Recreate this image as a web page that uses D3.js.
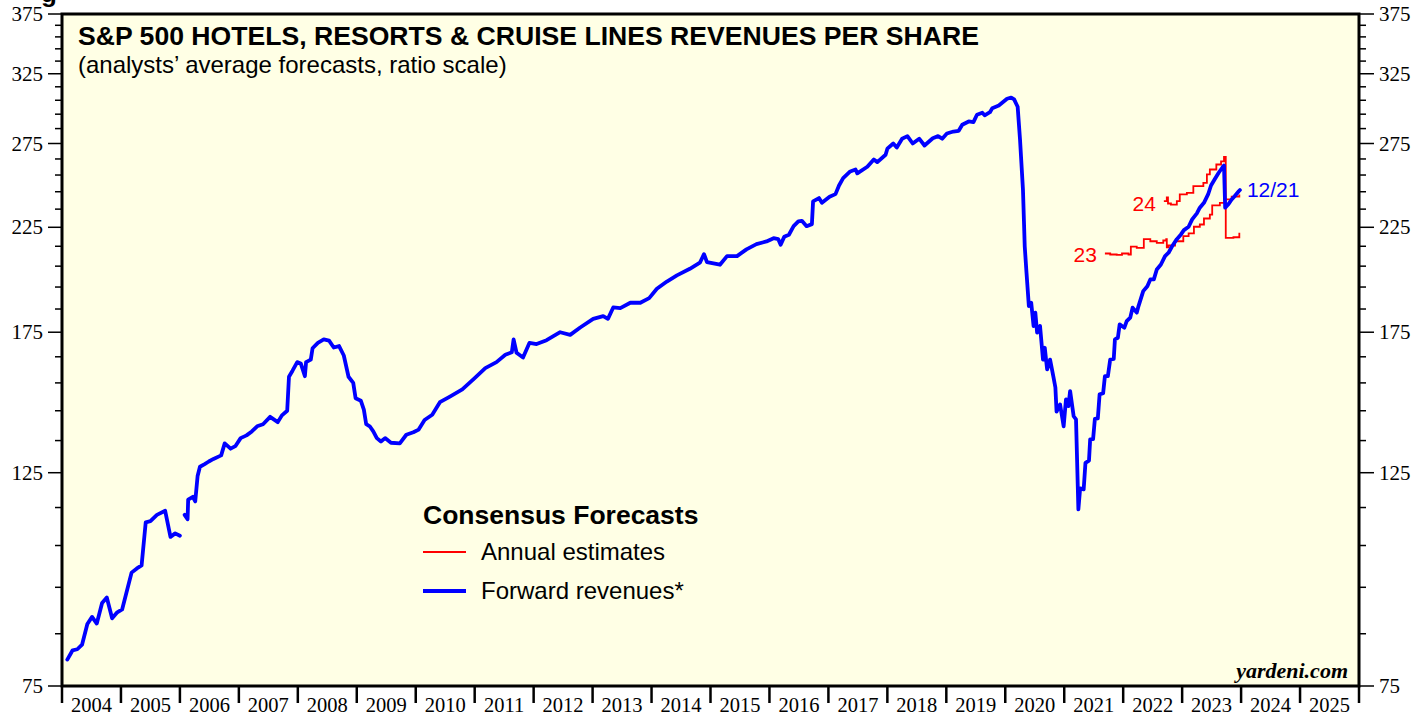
<!DOCTYPE html>
<html>
<head>
<meta charset="utf-8">
<script src="https://cdn.jsdelivr.net/npm/d3@7"></script>
<style>
  body { margin: 0; background: #fff; }
  svg { display: block; }
</style>
</head>
<body>
<svg id="chart" width="1427" height="717"></svg>
<script>
// axis labels
const years = d3.range(2004, 2026);
const majorTicks = [75, 125, 175, 225, 275, 325, 375];

// forward revenues (decimal year, value); null = gap in the series
const fwdDates = [
  2004.09, 2004.18, 2004.26, 2004.34, 2004.43, 2004.51, 2004.59, 2004.68, 2004.76, 2004.85,
  2004.93, 2005.02, 2005.18, 2005.27, 2005.35, 2005.42, 2005.50, 2005.61, 2005.75, 2005.84,
  2005.92, 2006.00, 2006.04,
  2006.08, 2006.13, 2006.14, 2006.22, 2006.26, 2006.30, 2006.34, 2006.42, 2006.49, 2006.57,
  2006.70, 2006.76, 2006.86, 2006.94, 2007.03, 2007.13, 2007.22, 2007.31, 2007.41, 2007.53,
  2007.66, 2007.73, 2007.82, 2007.85, 2007.91, 2007.99, 2008.05, 2008.12, 2008.14, 2008.22,
  2008.25, 2008.34, 2008.44, 2008.53, 2008.61, 2008.70, 2008.78, 2008.86, 2008.94, 2008.98,
  2009.07, 2009.12, 2009.16, 2009.22, 2009.28, 2009.34, 2009.41, 2009.48, 2009.58, 2009.73,
  2009.84, 2009.96, 2010.05, 2010.15, 2010.28, 2010.41, 2010.58, 2010.79, 2011.00, 2011.18,
  2011.37, 2011.52, 2011.63, 2011.66, 2011.71, 2011.82, 2011.93, 2012.05, 2012.22, 2012.45,
  2012.62, 2012.79, 2013.01, 2013.18, 2013.26, 2013.35, 2013.47, 2013.64, 2013.81, 2013.96,
  2014.09, 2014.26, 2014.43, 2014.65, 2014.82, 2014.89, 2014.94, 2015.16, 2015.28, 2015.45,
  2015.61, 2015.78, 2015.95, 2016.07, 2016.15, 2016.19, 2016.25, 2016.33, 2016.41, 2016.49,
  2016.55, 2016.63, 2016.72, 2016.74, 2016.84, 2016.89, 2017.02, 2017.12, 2017.18, 2017.25,
  2017.37, 2017.46, 2017.49, 2017.66, 2017.77, 2017.83, 2017.97, 2018.00, 2018.10, 2018.16,
  2018.25, 2018.34, 2018.43, 2018.54, 2018.63, 2018.77, 2018.86, 2018.93, 2019.01, 2019.12,
  2019.21, 2019.27, 2019.38, 2019.46, 2019.52, 2019.61, 2019.65, 2019.74, 2019.78, 2019.89,
  2020.03, 2020.10, 2020.15, 2020.21, 2020.25, 2020.30, 2020.33, 2020.36, 2020.40, 2020.44,
  2020.48, 2020.51, 2020.54, 2020.59, 2020.64, 2020.67, 2020.71, 2020.76, 2020.82, 2020.85,
  2020.87, 2020.93, 2020.99, 2021.03, 2021.07, 2021.10, 2021.16, 2021.20, 2021.24, 2021.27,
  2021.33, 2021.36, 2021.42, 2021.44, 2021.49, 2021.52, 2021.57, 2021.60, 2021.66, 2021.69,
  2021.74, 2021.78, 2021.84, 2021.86, 2021.91, 2021.94, 2022.02, 2022.06, 2022.12, 2022.16,
  2022.23, 2022.26, 2022.34, 2022.41, 2022.46, 2022.52, 2022.57, 2022.64, 2022.71, 2022.77,
  2022.83, 2022.91, 2022.98, 2023.03, 2023.11, 2023.17, 2023.25, 2023.30, 2023.37, 2023.44,
  2023.49, 2023.55, 2023.62, 2023.68, 2023.71, 2023.73, 2023.78, 2023.84, 2023.89, 2023.96,
  2023.98
];
const fwdValues = [
  79.9, 81.7, 81.9, 82.8, 87.0, 88.5, 87.1, 91.5, 92.7, 88.2,
  89.4, 90.1, 98.4, 99.4, 100.1, 111.0, 111.3, 113.0, 114.1, 107.2,
  108.1, 107.5, null,
  113.0, 111.8, 117.2, 118.0, 116.7, 124.0, 126.8, 127.6, 128.4, 129.2,
  130.3, 134.1, 132.4, 133.2, 135.8, 136.7, 138.0, 139.7, 140.4, 142.9,
  141.1, 143.4, 145.0, 157.3, 159.6, 162.9, 162.4, 157.5, 162.9, 163.9,
  168.4, 170.6, 172.0, 171.5, 168.7, 169.3, 165.5, 157.3, 155.0, 149.4,
  148.5, 145.4, 140.4, 139.7, 138.0, 135.8, 134.7, 135.8, 134.3, 134.1,
  136.9, 137.7, 138.6, 141.8, 143.6, 148.0, 150.0, 152.6, 156.8, 160.6,
  162.9, 165.8, 166.8, 172.0, 166.6, 164.7, 170.6, 170.1, 171.7, 175.0,
  173.9, 177.0, 180.7, 181.9, 180.7, 185.7, 185.4, 187.8, 187.8, 189.9,
  194.2, 197.6, 200.5, 203.7, 206.7, 211.0, 207.0, 205.7, 210.0, 210.0,
  213.4, 216.1, 217.5, 219.2, 218.7, 215.8, 219.9, 221.0, 225.6, 228.2,
  228.5, 225.6, 226.7, 239.4, 241.3, 238.6, 242.1, 243.6, 248.7, 253.1,
  257.2, 258.4, 256.0, 260.1, 264.7, 263.0, 267.7, 271.6, 275.0, 272.4,
  278.2, 279.9, 275.0, 278.2, 273.7, 278.5, 279.9, 278.2, 281.7, 283.0,
  283.5, 287.6, 289.9, 289.4, 294.6, 296.0, 294.2, 296.4, 299.3, 301.2,
  306.1, 307.0, 305.6, 300.3, 277.7, 246.3, 215.0, 201.8, 186.3, 187.8,
  177.6, 183.4, 174.8, 177.6, 163.9, 168.6, 160.1, 163.9, 156.9, 153.3,
  144.7, 147.2, 139.7, 149.0, 146.6, 152.0, 143.1, 142.0, 114.5, 120.4,
  120.1, 128.0, 128.7, 135.4, 135.5, 142.2, 142.4, 150.8, 151.2, 157.5,
  157.5, 163.9, 164.2, 172.0, 172.7, 178.3, 176.9, 179.7, 181.2, 185.6,
  183.4, 186.3, 193.1, 195.4, 198.6, 198.6, 203.4, 205.8, 210.0, 211.7,
  215.0, 218.7, 221.2, 223.5, 225.3, 229.3, 232.6, 235.8, 238.6, 243.4,
  248.7, 252.3, 256.4, 259.5, 260.9, 235.8, 237.6, 240.5, 242.4, 245.3,
  246.0
];

// annual estimates for 2023 and 2024
const est23Dates = [
  2021.69, 2021.78, 2021.89, 2021.98, 2022.09, 2022.13, 2022.23, 2022.35, 2022.46, 2022.57,
  2022.68, 2022.73, 2022.74, 2022.77, 2022.88, 2023.02, 2023.11, 2023.20, 2023.30, 2023.37,
  2023.47, 2023.51, 2023.64, 2023.72, 2023.74, 2023.87, 2023.97
];
const est23Values = [
  211.3, 210.8, 210.6, 211.3, 210.8, 214.8, 214.2, 218.7, 217.6, 216.8,
  218.0, 218.7, 214.4, 215.4, 217.6, 220.3, 221.7, 225.3, 226.5, 229.8,
  231.9, 237.1, 238.6, 240.5, 219.4, 219.7, 222.1
];
const est24Dates = [
  2022.69, 2022.74, 2022.76, 2022.81, 2022.91, 2022.96, 2023.08, 2023.19, 2023.36, 2023.42,
  2023.47, 2023.58, 2023.66, 2023.71, 2023.74, 2023.84, 2023.97
];
const est24Values = [
  239.6, 241.7, 238.2, 237.6, 239.6, 243.4, 244.3, 248.3, 250.3, 255.4,
  258.4, 261.5, 263.5, 266.3, 240.5, 242.1, 243.4
];

const fwd = fwdDates.map((t, i) => ({ t, v: fwdValues[i] }));
const est23 = est23Dates.map((t, i) => ({ t, v: est23Values[i] }));
const est24 = est24Dates.map((t, i) => ({ t, v: est24Values[i] }));

const svg = d3.select('#chart');
const plot = { left: 62, right: 1359, top: 14, bottom: 686 };
const sans = 'Liberation Sans, Arial, sans-serif';
const serif = 'Liberation Serif, Times New Roman, serif';

const x = d3.scaleLinear().domain([2004, 2026]).range([plot.left, plot.right]);
const y = d3.scaleLog().domain([75, 375]).range([plot.bottom, plot.top]);

// plot background
svg.append('rect')
  .attr('x', plot.left).attr('y', plot.top)
  .attr('width', plot.right - plot.left).attr('height', plot.bottom - plot.top)
  .attr('fill', '#ffffe5');

// cut-off heading glyph at the very top
svg.append('text')
  .attr('x', 41).attr('y', 2)
  .attr('font-family', sans).attr('font-weight', 'bold').attr('font-size', '26px')
  .text('g');

// title
svg.append('text')
  .attr('x', 78).attr('y', 45)
  .attr('font-family', sans).attr('font-weight', 'bold').attr('font-size', '26.6px')
  .text('S&P 500 HOTELS, RESORTS & CRUISE LINES REVENUES PER SHARE');

svg.append('text')
  .attr('x', 78).attr('y', 73)
  .attr('font-family', sans).attr('font-size', '24px')
  .text('(analysts\u2019 average forecasts, ratio scale)');

// lines
const line = d3.line()
  .defined(d => d.v != null)
  .x(d => x(d.t))
  .y(d => y(d.v));

const stepLine = d3.line()
  .x(d => x(d.t))
  .y(d => y(d.v))
  .curve(d3.curveStepAfter);

[est23, est24].forEach(s => {
  svg.append('path')
    .datum(s)
    .attr('d', stepLine)
    .attr('fill', 'none')
    .attr('stroke', '#ff0000')
    .attr('stroke-width', 1.8);
});

svg.append('path')
  .datum(fwd)
  .attr('d', line)
  .attr('fill', 'none')
  .attr('stroke', '#0000ff')
  .attr('stroke-width', 3.8)
  .attr('stroke-linejoin', 'round')
  .attr('stroke-linecap', 'round');

// series labels
const f23 = est23[0], f24 = est24[0], lastFwd = fwd[fwd.length - 1];
svg.append('text')
  .attr('x', x(f23.t) - 8).attr('y', y(f23.v) + 8)
  .attr('text-anchor', 'end')
  .attr('font-family', sans).attr('font-size', '21px').attr('fill', '#ff0000')
  .text('23');
svg.append('text')
  .attr('x', x(f24.t) - 8).attr('y', y(f24.v) + 10)
  .attr('text-anchor', 'end')
  .attr('font-family', sans).attr('font-size', '21px').attr('fill', '#ff0000')
  .text('24');
svg.append('text')
  .attr('x', x(lastFwd.t) + 7).attr('y', y(lastFwd.v) + 7)
  .attr('font-family', sans).attr('font-size', '21px').attr('fill', '#0000ff')
  .text('12/21');

// legend
const legend = svg.append('g').attr('transform', 'translate(423,0)');
legend.append('text')
  .attr('x', 0).attr('y', 524)
  .attr('font-family', sans).attr('font-weight', 'bold').attr('font-size', '26.5px')
  .text('Consensus Forecasts');
legend.append('line')
  .attr('x1', 0).attr('x2', 43).attr('y1', 552).attr('y2', 552)
  .attr('stroke', '#ff0000').attr('stroke-width', 1.8);
legend.append('text')
  .attr('x', 58).attr('y', 560)
  .attr('font-family', sans).attr('font-size', '24px')
  .text('Annual estimates');
legend.append('line')
  .attr('x1', 0).attr('x2', 43).attr('y1', 591).attr('y2', 591)
  .attr('stroke', '#0000ff').attr('stroke-width', 3.8);
legend.append('text')
  .attr('x', 58).attr('y', 599)
  .attr('font-family', sans).attr('font-size', '24px')
  .text('Forward revenues*');

// source
svg.append('text')
  .attr('x', 1348).attr('y', 678)
  .attr('text-anchor', 'end')
  .attr('font-family', serif).attr('font-weight', 'bold').attr('font-style', 'italic')
  .attr('font-size', '22px')
  .text('yardeni.com');

// y ticks on both sides, minor every 10
const yTicks = d3.range(75, 376, 10);
yTicks.forEach(v => {
  const major = majorTicks.includes(v);
  svg.append('line')
    .attr('x1', plot.left - (major ? 14 : 7)).attr('x2', plot.left)
    .attr('y1', y(v)).attr('y2', y(v))
    .attr('stroke', '#000').attr('stroke-width', 1.5);
  svg.append('line')
    .attr('x1', plot.right).attr('x2', plot.right + (major ? 15 : 7))
    .attr('y1', y(v)).attr('y2', y(v))
    .attr('stroke', '#000').attr('stroke-width', 1.5);
});

majorTicks.forEach(v => {
  svg.append('text')
    .attr('x', 43).attr('y', y(v) + 7)
    .attr('text-anchor', 'end')
    .attr('font-family', serif).attr('font-size', '21px')
    .text(v);
  svg.append('text')
    .attr('x', 1379).attr('y', y(v) + 7)
    .attr('font-family', serif).attr('font-size', '21px')
    .text(v);
});

// x ticks at year boundaries, labels centred in each year
d3.range(2004, 2027).forEach(yr => {
  svg.append('line')
    .attr('x1', x(yr)).attr('x2', x(yr))
    .attr('y1', plot.bottom).attr('y2', 703)
    .attr('stroke', '#000').attr('stroke-width', 2.5);
});

years.forEach(yr => {
  svg.append('text')
    .attr('x', x(yr + 0.5)).attr('y', 712)
    .attr('text-anchor', 'middle')
    .attr('font-family', serif).attr('font-size', '20.5px')
    .text(yr);
});

// frame
svg.append('rect')
  .attr('x', plot.left).attr('y', plot.top)
  .attr('width', plot.right - plot.left).attr('height', plot.bottom - plot.top)
  .attr('fill', 'none')
  .attr('stroke', '#000')
  .attr('stroke-width', 3);
</script>
</body>
</html>
